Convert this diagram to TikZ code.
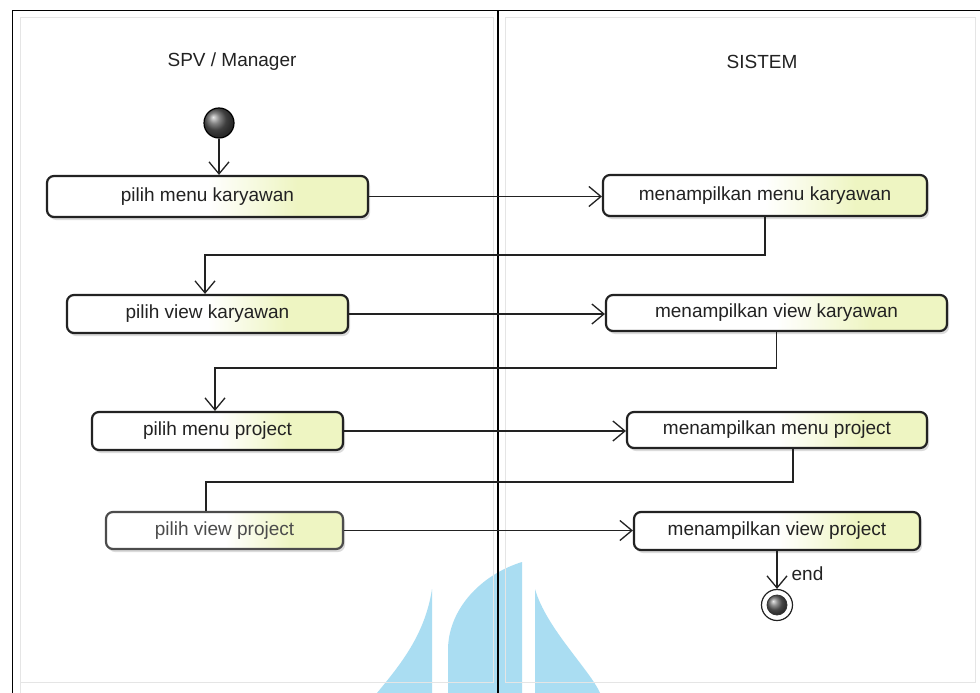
\documentclass[tikz,border=0pt]{standalone}
\usepackage{fontspec}
\setmainfont{Liberation Sans}
\usetikzlibrary{arrows.meta,shadows,calc}
\definecolor{boxyel}{RGB}{238,245,194}
\definecolor{wm}{RGB}{170,221,242}
\definecolor{ink}{RGB}{34,34,34}
\pgfdeclarehorizontalshading{boxshade}{100bp}{color(0bp)=(white); color(25bp)=(white); color(50bp)=(white); color(64bp)=(boxyel); color(75bp)=(boxyel); color(100bp)=(boxyel)}
\tikzset{
  act/.style={draw=ink, line width=2.2pt, rounded corners=7pt, shade, shading=boxshade,
    text=ink, inner sep=0pt,
    drop shadow={shadow xshift=2pt, shadow yshift=-3pt, fill=black, opacity=.14}},
  arr/.style={draw=ink, line width=1.3pt, -{Straight Barb[length=12pt,width=20pt,line width=1.3pt]}},
  plain/.style={draw=ink, line width=1.3pt},
  lane/.style={draw=black, line width=1.4pt},
  faint/.style={draw=black!10, line width=1pt},
  lanelabel/.style={text=ink, inner sep=0pt}
}
\begin{document}
\begin{tikzpicture}[x=1pt,y=-1pt,font=\fontsize{19}{23}\selectfont]
\useasboundingbox (0,0) rectangle (980,693);
\fill[white] (0,0) rectangle (980,693);

% watermark
\fill[wm] (432,589) -- (432,693) -- (377,693) .. controls (400,665) and (425,635) .. (432,589) -- cycle;
\fill[wm] (522,693) -- (522,562) .. controls (480,575) and (448,610) .. (448,650) -- (448,693) -- cycle;
\fill[wm] (535,589) -- (535,693) -- (600,693) .. controls (590,670) and (546,628) .. (535,589) -- cycle;

% faint inner lane outlines
\draw[faint] (20,693) -- (20,17.5) -- (493,17.5) -- (493,682) -- (20,682);
\draw[faint] (505,682) -- (505,17.5) -- (975,17.5) -- (975,682) -- (505,682);

% swimlane frame
\draw[lane] (12.5,693) -- (12.5,10.5) -- (980,10.5);
\draw[lane] (498,10.5) -- (498,693);

\node[lanelabel] (lane1) at (232,62) {SPV / Manager};
\node[lanelabel] (lane2) at (762,62) {SISTEM};

% start
\node[circle, minimum size=30pt, inner sep=0pt, draw=black, line width=1.2pt, ball color=black!65] (start) at (219,123) {};

% activities
\node[act, minimum width=321pt, minimum height=41pt] (pmk) at (207.5,196.5) {pilih menu karyawan};
\node[act, minimum width=324pt, minimum height=41pt] (mmk) at (765,195.5) {menampilkan menu karyawan};
\node[act, minimum width=281pt, minimum height=38pt] (pvk) at (207.5,314) {pilih view karyawan};
\node[act, minimum width=341pt, minimum height=36pt] (mvk) at (776.5,313) {menampilkan view karyawan};
\node[act, minimum width=251pt, minimum height=38pt] (pmp) at (217.5,431) {pilih menu project};
\node[act, minimum width=300pt, minimum height=36pt] (mmp) at (777,430) {menampilkan menu project};
\node[act, draw=black!70, text=black!70, minimum width=237pt, minimum height=37pt] (pvp) at (224.5,530.5) {pilih view project};
\node[act, minimum width=286pt, minimum height=38pt] (mvp) at (777,531) {menampilkan view project};

% end
\node[circle, minimum size=31pt, inner sep=0pt, draw=ink, line width=1.2pt, fill=white] (end) at (777,605) {};
\node[circle, minimum size=20pt, inner sep=0pt, draw=black!80, line width=0.8pt, ball color=black!60] (endball) at (end.center) {};

% connectors
\draw[arr] (start) -- (pmk.north -| start);
\draw[arr] (pmk.east) -- (pmk.east -| mmk.west);
\draw[arr] (mmk.south) -- ++(0,38) -| ([xshift=-2.5pt]pvk.north);
\draw[arr] (pvk.east) -- (pvk.east -| mvk.west);
\draw[arr] (mvk.south) -- ++(0,36) -| ([xshift=-2.5pt]pmp.north);
\draw[arr] (pmp.east) -- (pmp.east -| mmp.west);
\draw[plain] ([xshift=16pt]mmp.south) -- ++(0,33) -| ([xshift=-18.5pt]pvp.north);
\draw[arr] (pvp.east) -- (pvp.east -| mvp.west);
\draw[arr] (mvp.south) -- (end.north) node[pos=0.6, anchor=west, xshift=11pt, text=ink, inner sep=3pt] {end};
\end{tikzpicture}
\end{document}
